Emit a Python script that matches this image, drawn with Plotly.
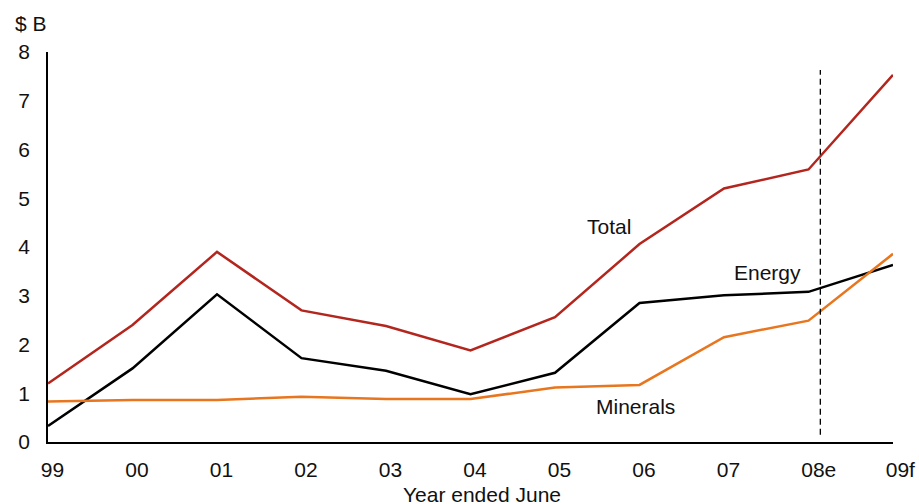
import plotly.graph_objects as go

# Fiscal years (year ended June); e = estimate, f = forecast
years = ["99", "00", "01", "02", "03", "04", "05", "06", "07", "08e", "09f"]
total = [1.20, 2.40, 3.90, 2.70, 2.38, 1.88, 2.56, 4.06, 5.20, 5.59, 7.53]
energy = [0.33, 1.51, 3.03, 1.72, 1.46, 0.98, 1.42, 2.85, 3.01, 3.08, 3.63]
minerals = [0.83, 0.86, 0.86, 0.93, 0.88, 0.88, 1.12, 1.17, 2.15, 2.49, 3.86]
y_ticks = [0, 1, 2, 3, 4, 5, 6, 7, 8]

FONT = "Liberation Sans, Arial, sans-serif"
FS = 21
x = list(range(len(years)))

fig = go.Figure()
series = [
    ("Total", total, "#b3261e"),
    ("Energy", energy, "#000000"),
    ("Minerals", minerals, "#e8761e"),
]
for name, vals, color in series:
    fig.add_trace(go.Scatter(
        x=x, y=vals, mode="lines", name=name,
        line=dict(color=color, width=2.5),
        showlegend=False, hoverinfo="skip",
    ))

# Divider between estimates and forecast
divider_x = 9.14
fig.add_shape(type="line", xref="x", yref="y",
              x0=divider_x, x1=divider_x, y0=0.15, y1=7.63,
              line=dict(color="black", width=1.3, dash="6px,4px"))

# Series labels
labels = [("Total", 6.64, 4.42), ("Energy", 8.52, 3.48), ("Minerals", 6.95, 0.72)]
for text, lx, ly in labels:
    fig.add_annotation(x=lx, y=ly, xref="x", yref="y", text=text,
                       showarrow=False, font=dict(size=FS, color="#111"))

# Unit label and x-axis title
fig.add_annotation(x=-35 / 845, y=1 + 29 / 390, xref="paper", yref="paper",
                   text="$ B", showarrow=False,
                   font=dict(size=FS, color="#111"),
                   xanchor="left", yanchor="middle")
fig.add_annotation(x=(482 - 48) / 845, y=-52 / 390, xref="paper", yref="paper",
                   text="Year ended June", showarrow=False,
                   font=dict(size=FS, color="#111"),
                   xanchor="center", yanchor="middle")

fig.update_layout(
    width=919, height=504,
    margin=dict(l=48, r=26, t=52, b=62),
    paper_bgcolor="white", plot_bgcolor="white",
    font=dict(family=FONT, size=FS, color="#111"),
)

fig.update_xaxes(
    range=[0, 10], tickmode="array", tickvals=x, ticktext=years,
    showgrid=False, zeroline=False, ticks="", automargin=False,
    showline=True, linecolor="black", linewidth=1.5,
    ticklabelposition="outside right", ticklabelshift=-8,
    ticklabelstandoff=8,
)
fig.update_yaxes(
    range=[0, 8], tickmode="array", tickvals=y_ticks,
    showgrid=False, zeroline=False, ticks="", automargin=False,
    showline=True, linecolor="black", linewidth=1.5,
    ticklabelstandoff=12,
)

fig.write_html("out.html")
